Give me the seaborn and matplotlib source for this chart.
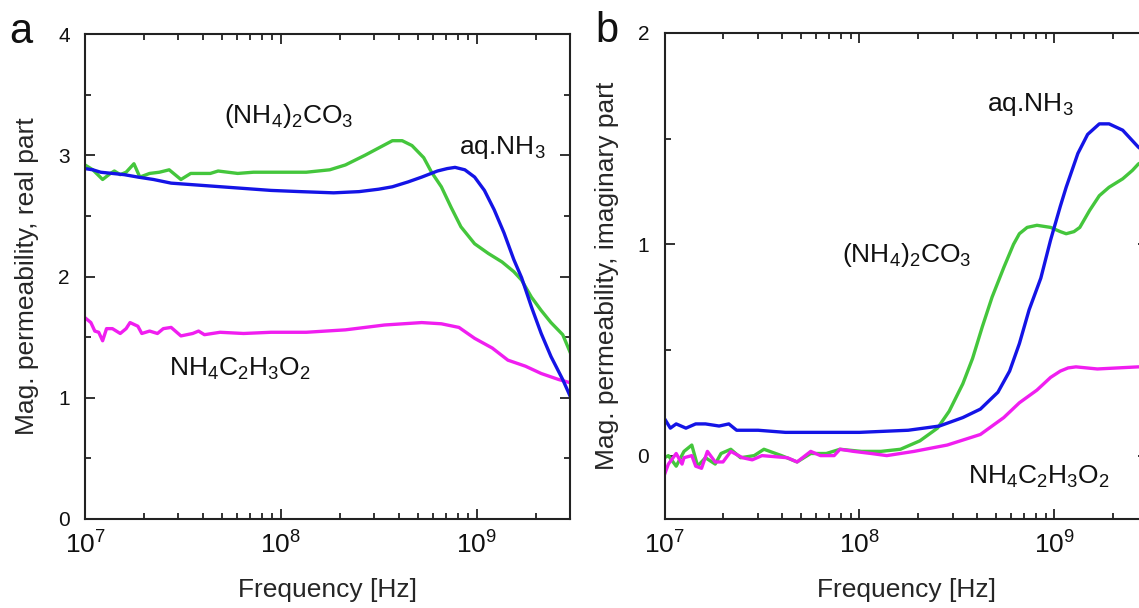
import numpy as np
import matplotlib
matplotlib.use("Agg")
import matplotlib.pyplot as plt
import seaborn as sns
from matplotlib.ticker import MultipleLocator, NullFormatter, LogLocator

# ---------------- data (log10 of frequency in Hz) ----------
# Panel a: real part
re_nh3_logf = [7.00, 7.04, 7.08, 7.14, 7.20, 7.27, 7.35, 7.44, 7.61, 7.78, 7.95, 8.10, 8.27,
               8.40, 8.50, 8.57, 8.65, 8.72, 8.80, 8.85, 8.89, 8.94, 8.99, 9.04, 9.09, 9.14,
               9.19, 9.23, 9.28, 9.33, 9.38, 9.44, 9.487]
re_nh3_val = [2.89, 2.88, 2.86, 2.85, 2.84, 2.82, 2.80, 2.77, 2.75, 2.73, 2.71, 2.70, 2.69,
              2.70, 2.72, 2.74, 2.78, 2.82, 2.87, 2.89, 2.90, 2.88, 2.82, 2.71, 2.55, 2.36,
              2.14, 1.99, 1.75, 1.53, 1.34, 1.15, 0.98]

re_carb_logf = [7.00, 7.04, 7.09, 7.13, 7.15, 7.18, 7.21, 7.25, 7.28, 7.33, 7.38, 7.43, 7.49,
                7.54, 7.64, 7.68, 7.78, 7.86, 7.95, 8.13, 8.25, 8.33, 8.43, 8.50, 8.57, 8.62,
                8.67, 8.73, 8.77, 8.82, 8.87, 8.92, 8.99, 9.06, 9.13, 9.19, 9.23, 9.28, 9.33,
                9.38, 9.44, 9.487]
re_carb_val = [2.92, 2.88, 2.80, 2.85, 2.87, 2.84, 2.86, 2.93, 2.82, 2.85, 2.86, 2.88, 2.80,
               2.85, 2.85, 2.87, 2.85, 2.86, 2.86, 2.86, 2.88, 2.92, 3.00, 3.06, 3.12, 3.12,
               3.08, 2.98, 2.86, 2.74, 2.57, 2.41, 2.27, 2.19, 2.12, 2.04, 1.97, 1.83, 1.72,
               1.62, 1.52, 1.34]

re_acet_logf = [7.00, 7.03, 7.05, 7.07, 7.09, 7.11, 7.14, 7.18, 7.21, 7.23, 7.27, 7.29, 7.33,
                7.37, 7.40, 7.44, 7.49, 7.55, 7.58, 7.61, 7.69, 7.81, 7.95, 8.13, 8.33, 8.53,
                8.72, 8.82, 8.91, 8.99, 9.08, 9.16, 9.25, 9.33, 9.42, 9.487]
re_acet_val = [1.66, 1.62, 1.55, 1.54, 1.47, 1.57, 1.57, 1.53, 1.57, 1.62, 1.59, 1.53, 1.55,
               1.53, 1.57, 1.58, 1.51, 1.53, 1.55, 1.52, 1.54, 1.53, 1.54, 1.54, 1.56, 1.60,
               1.62, 1.61, 1.58, 1.49, 1.41, 1.31, 1.26, 1.20, 1.15, 1.12]

# Panel b: imaginary part
im_nh3_logf = [7.00, 7.03, 7.06, 7.11, 7.16, 7.21, 7.28, 7.33, 7.37, 7.48, 7.62, 7.83, 8.00,
               8.25, 8.41, 8.53, 8.62, 8.71, 8.77, 8.82, 8.87, 8.93, 8.98, 9.03, 9.06, 9.12,
               9.17, 9.23, 9.28, 9.35, 9.40, 9.43, 9.487]
im_nh3_val = [0.175, 0.13, 0.15, 0.13, 0.15, 0.15, 0.14, 0.15, 0.12, 0.12, 0.11, 0.11, 0.11,
              0.12, 0.14, 0.18, 0.22, 0.30, 0.40, 0.53, 0.69, 0.84, 1.02, 1.18, 1.27, 1.43,
              1.52, 1.57, 1.57, 1.54, 1.49, 1.46, 1.42]

im_carb_logf = [7.00, 7.02, 7.06, 7.10, 7.14, 7.17, 7.21, 7.26, 7.29, 7.34, 7.39, 7.46, 7.51,
                7.60, 7.68, 7.75, 7.83, 7.90, 8.01, 8.11, 8.21, 8.31, 8.40, 8.46, 8.53, 8.58,
                8.63, 8.68, 8.74, 8.79, 8.82, 8.86, 8.91, 8.98, 9.03, 9.06, 9.10, 9.13, 9.18,
                9.23, 9.28, 9.35, 9.40, 9.43, 9.487]
im_carb_val = [-0.01, 0.00, -0.05, 0.02, 0.05, -0.05, -0.01, -0.04, 0.01, 0.03, -0.01, 0.00,
               0.03, 0.00, -0.03, 0.01, 0.01, 0.03, 0.02, 0.02, 0.03, 0.07, 0.13, 0.21, 0.34,
               0.46, 0.61, 0.75, 0.89, 1.00, 1.05, 1.08, 1.09, 1.08, 1.06, 1.05, 1.06, 1.08,
               1.16, 1.23, 1.27, 1.31, 1.35, 1.38, 1.41]

im_acet_logf = [7.00, 7.02, 7.06, 7.09, 7.10, 7.14, 7.16, 7.19, 7.22, 7.26, 7.30, 7.34, 7.40,
                7.45, 7.50, 7.63, 7.68, 7.75, 7.80, 7.87, 7.90, 7.97, 8.06, 8.14, 8.28, 8.45,
                8.62, 8.74, 8.82, 8.91, 8.98, 9.03, 9.07, 9.11, 9.22, 9.43, 9.487]
im_acet_val = [-0.09, -0.04, 0.01, -0.04, -0.01, 0.00, -0.05, -0.06, 0.02, -0.03, -0.03, 0.02,
               -0.01, -0.02, 0.00, -0.01, -0.03, 0.02, 0.00, 0.00, 0.03, 0.02, 0.01, 0.00,
               0.02, 0.05, 0.10, 0.18, 0.25, 0.31, 0.37, 0.40, 0.415, 0.42, 0.41, 0.42, 0.42]

series_colors = {"nh3": "#1414e6", "carb": "#44c63c", "acet": "#f01ef0"}

# ---------------- style ----------------
sns.set_style("ticks")
plt.rcParams["font.family"] = ["Liberation Sans", "DejaVu Sans"]
plt.rcParams["mathtext.fontset"] = "custom"
plt.rcParams["mathtext.rm"] = "Liberation Sans"
plt.rcParams["mathtext.it"] = "Liberation Sans:italic"
plt.rcParams["mathtext.bf"] = "Liberation Sans:bold"
plt.rcParams["mathtext.default"] = "regular"
plt.rcParams["text.color"] = "#111111"
plt.rcParams["xtick.color"] = "#222222"
plt.rcParams["ytick.color"] = "#222222"

W, H = 1139, 608
fig = plt.figure(figsize=(W / 100, H / 100), dpi=100)
ax1 = fig.add_axes([85 / W, 89 / H, 485 / W, 485 / H])
ax2 = fig.add_axes([664.5 / W, 89 / H, 483 / W, 486 / H])

lw = 2.4
for ax, sets in [
    (ax1, [(re_carb_logf, re_carb_val, "carb"), (re_acet_logf, re_acet_val, "acet"),
           (re_nh3_logf, re_nh3_val, "nh3")]),
    (ax2, [(im_carb_logf, im_carb_val, "carb"), (im_acet_logf, im_acet_val, "acet"),
           (im_nh3_logf, im_nh3_val, "nh3")]),
]:
    for lf, vals, key in sets:
        sns.lineplot(x=10 ** np.array(lf), y=vals, ax=ax, color=series_colors[key],
                     linewidth=lw, sort=False, estimator=None)

for ax in (ax1, ax2):
    ax.set_xscale("log")
    ax.set_xlim(1e7, 3e9)
    ax.xaxis.set_major_locator(LogLocator(base=10, numticks=10))
    ax.xaxis.set_minor_locator(LogLocator(base=10, subs=np.arange(2, 10), numticks=20))
    ax.xaxis.set_minor_formatter(NullFormatter())
    ax.yaxis.set_major_locator(MultipleLocator(1))
    ax.yaxis.set_minor_locator(MultipleLocator(0.5))
    ax.tick_params(which="both", direction="in", top=True, right=True, width=1.3)
    ax.tick_params(which="major", length=7)
    ax.tick_params(which="minor", length=4)
    ax.tick_params(axis="x", which="major", labelsize=19, pad=9, labelcolor="#111111")
    ax.tick_params(axis="y", which="major", labelsize=15, pad=11, labelcolor="#111111")
    for s in ax.spines.values():
        s.set_linewidth(1.5)
        s.set_color("#222222")
    ax.set_xlabel("Frequency [Hz]", fontsize=19)
    ax.xaxis.set_label_coords(0.5, -0.122)

ax1.set_ylim(0, 4)
ax2.set_ylim(-0.3, 2)
ax1.set_ylabel("Mag. permeability, real part", fontsize=19)
ax2.set_ylabel("Mag. permeability, imaginary part", fontsize=19)
ax1.yaxis.set_label_coords(-0.095, 0.5)
ax2.yaxis.set_label_coords(-0.095, 0.5)

# annotations
fs_ann = 19
ax1.text(10 ** 8.04, 3.32, r"(NH$_4$)$_2$CO$_3$", fontsize=fs_ann, ha="center", va="center")
ax1.text(10 ** 9.13, 3.06, r"aq.NH$_3$", fontsize=fs_ann, ha="center", va="center")
ax1.text(10 ** 7.79, 1.24, r"NH$_4$C$_2$H$_3$O$_2$", fontsize=fs_ann, ha="center", va="center")
ax2.text(10 ** 8.875, 1.66, r"aq.NH$_3$", fontsize=fs_ann, ha="center", va="center")
ax2.text(10 ** 8.24, 0.95, r"(NH$_4$)$_2$CO$_3$", fontsize=fs_ann, ha="center", va="center")
ax2.text(10 ** 8.92, -0.10, r"NH$_4$C$_2$H$_3$O$_2$", fontsize=fs_ann, ha="center", va="center")

fig.text(21 / W, 1 - 43 / H, "a", fontsize=30, ha="center", va="baseline")
fig.text(607 / W, 1 - 42 / H, "b", fontsize=30, ha="center", va="baseline")

fig.savefig("out.png", dpi=100)
